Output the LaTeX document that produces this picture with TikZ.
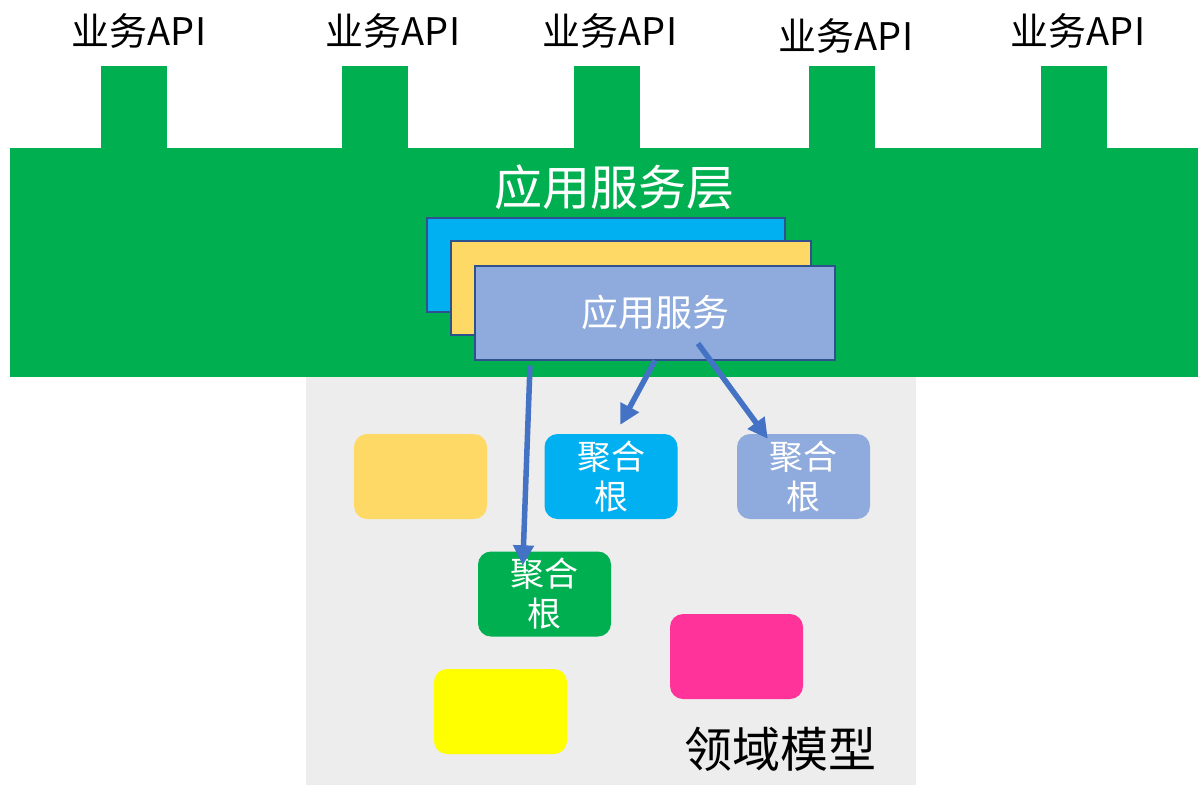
\documentclass[tikz,border=0pt]{standalone}
\usepackage{fontspec}
\setmainfont{Noto Sans CJK SC}
\usetikzlibrary{arrows.meta,calc}
\definecolor{bandgreen}{HTML}{00B050}
\definecolor{skyblue}{HTML}{00B0F0}
\definecolor{goldfill}{HTML}{FFD966}
\definecolor{peri}{HTML}{8FAADC}
\definecolor{stackborder}{HTML}{2F528F}
\definecolor{arrowblue}{HTML}{4472C4}
\definecolor{domaingray}{HTML}{EDEDED}
\definecolor{pinkfill}{HTML}{FF3399}
\definecolor{yellowfill}{HTML}{FFFF00}
\tikzset{
  block/.style={draw=none,inner sep=0pt,rectangle},
  tab/.style={block,fill=bandgreen,minimum width=66pt,minimum height=84pt},
  apilabel/.style={inner sep=0pt,font=\fontsize{38}{42}\selectfont,text=black},
  stackbox/.style={rectangle,draw=stackborder,line width=2pt,inner sep=0pt,minimum width=358pt,minimum height=94pt},
  ent/.style={rectangle,rounded corners=13pt,draw=none,inner sep=0pt,minimum width=133pt,minimum height=85pt,
    text=white,align=center,font=\fontsize{34}{40}\selectfont},
  link/.style={draw=arrowblue,line width=5.5pt,-{Triangle[length=20pt,width=20pt]}}
}
\begin{document}
\begin{tikzpicture}[x=1pt,y=-1pt]
\useasboundingbox (0,0) rectangle (1198,785);
\fill[white] (0,0) rectangle (1198,785);
% tabs and band
\node[tab] (t1) at (134,108) {};
\node[tab] (t2) at (375,108) {};
\node[tab] (t3) at (606.5,108) {};
\node[tab] (t4) at (841.5,108) {};
\node[tab] (t5) at (1073.5,108) {};
\node[block,fill=bandgreen,minimum width=1188pt,minimum height=229pt] (band) at (604,262.5) {};
\node[apilabel] (l1) at (139,31) {业务API};
\node[apilabel] (l2) at (393,31) {业务API};
\node[apilabel] (l3) at (610,31) {业务API};
\node[apilabel] (l4) at (846,36) {业务API};
\node[apilabel] (l5) at (1078,31) {业务API};
\node[inner sep=0pt,text=white,font=\fontsize{48}{52}\selectfont] (layer) at (614,187) {应用服务层};
% domain area
\node[block,fill=domaingray,minimum width=610pt,minimum height=408pt] (domain) at (611,581) {};
% stacked services
\node[stackbox,fill=skyblue] (s1) at (606,264.5) {};
\node[stackbox,fill=goldfill,minimum width=360pt] (s2) at (631,288) {};
\node[stackbox,fill=peri,minimum width=360pt,text=white,font=\fontsize{37}{40}\selectfont] (svc) at (655,312.5) {\raisebox{-3pt}{应用服务}};
% entities
\node[ent,fill=goldfill] (e1) at (420.5,476.5) {};
\node[ent,fill=skyblue] (agg1) at (611,476.5) {聚合\\根};
\node[ent,fill=peri] (agg2) at (803.5,476.5) {聚合\\根};
\node[ent,fill=bandgreen] (agg3) at (544.5,594) {聚合\\根};
\node[ent,fill=pinkfill] (e2) at (736.5,656.5) {};
\node[ent,fill=yellowfill] (e3) at (500.5,711.5) {};
\node[inner sep=0pt,font=\fontsize{48}{52}\selectfont] (dlabel) at (780,749) {领域模型};
% arrows
\draw[link] ($(svc.south west)+(56,5)$) -- ($(agg3.north west)+(45,14)$);
\draw[link] (svc.south) -- ($(agg1.north west)+(76,-9)$);
\draw[link] ($(svc.south west)+(224,-17)$) -- ($(agg2.north west)+(31,5)$);
\end{tikzpicture}
\end{document}
